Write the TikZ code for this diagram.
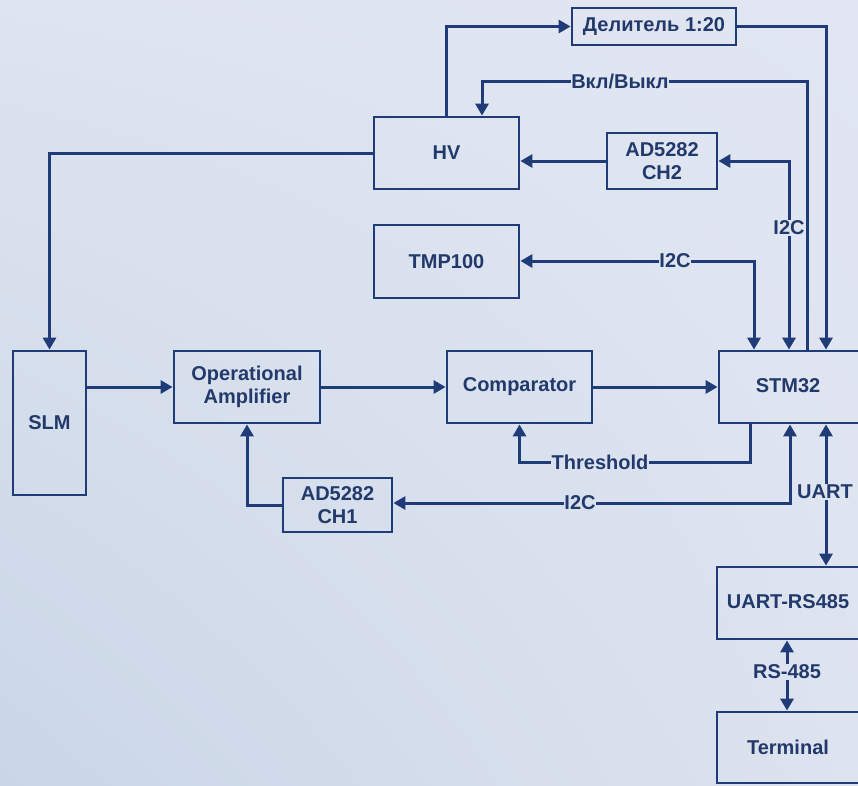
\documentclass[tikz,border=0pt]{standalone}
\usepackage{fontspec}
\setmainfont{Liberation Sans}
\usetikzlibrary{arrows.meta,shadings}
\definecolor{ln}{HTML}{1F3C78}
\definecolor{tx}{HTML}{22396B}
\definecolor{bgA}{HTML}{DEE4F0}
\definecolor{bgB}{HTML}{E1E6F2}
\definecolor{bgC}{HTML}{CAD6E7}
\definecolor{bgD}{HTML}{DDE3EF}
\tikzset{
  x=1pt, y=-1pt,
  box/.style={draw=ln, line width=2.8pt, text=tx, font=\fontsize{20}{22.5}\selectfont\bfseries, align=center, inner sep=0pt},
  lbl/.style={text=tx, font=\fontsize{20}{22.5}\selectfont\bfseries, inner sep=0.5pt},
  wire/.style={draw=ln, line width=3pt},
  arr/.style={wire, -{Triangle[length=12pt,width=13pt]}},
}
\begin{document}
\begin{tikzpicture}
\useasboundingbox (0,0) rectangle (858,785);
\shade[upper left=bgA, upper right=bgB, lower left=bgC, lower right=bgD] (0,0) rectangle (858,785);

% boxes
\node[box, minimum width=164pt, minimum height=37pt] (div) at (654,26.5) {Делитель 1:20};
\node[box, minimum width=145pt, minimum height=72pt] (hv) at (446.5,153) {HV};
\node[box, minimum width=110pt, minimum height=56pt] (ch2) at (662,161) {AD5282\\CH2};
\node[box, minimum width=145pt, minimum height=73pt] (tmp) at (446.5,261.5) {TMP100};
\node[box, minimum width=73pt, minimum height=144pt] (slm) at (49.5,423) {SLM};
\node[box, minimum width=146pt, minimum height=72pt] (opamp) at (247,387) {Operational\\Amplifier};
\node[box, minimum width=109pt, minimum height=54pt] (ch1) at (337.5,505) {AD5282\\CH1};
\node[box, minimum width=145pt, minimum height=72pt] (comp) at (519.5,387) {Comparator};
\node[box, minimum width=160pt, minimum height=72pt] (stm) at (799,387) {};
\node[lbl] (stmtxt) at (788,386) {STM32};
\node[box, minimum width=162pt, minimum height=72pt] (uart) at (798,603) {};
\node[lbl] (uarttxt) at (788,602) {UART-RS485};
\node[box, minimum width=162pt, minimum height=71pt] (term) at (798,747.5) {};
\node[lbl] (termtxt) at (788,747) {Terminal};

% helper x positions
\coordinate (x482) at (482,0);
\coordinate (x750) at (750,0);
\coordinate (x754) at (754,0);
\coordinate (x790) at (790,0);
\coordinate (x807) at (807,0);
\coordinate (x826) at (826,0);

% line labels
\node[lbl] (vkl) at (620,81) {Вкл/Выкл};
\node[lbl] (i2cb) at (789,228) {I2C};
\node[lbl] (i2ca) at (675,261) {I2C};
\node[lbl] (thr) at (600,462) {Threshold};
\node[lbl] (i2cc) at (580,503) {I2C};
\node[lbl] (uartl) at (825,492) {UART};
\node[lbl] (rsl) at (787,672) {RS-485};

% connectors
\draw[arr] (hv.north) |- (div.west);
\draw[arr] (div.east) -| (stm.north -| x826);
\draw[wire] (stm.north -| x807) |- (vkl.east);
\draw[arr] (vkl.west) -| (hv.north -| x482);
\draw[arr] (ch2.west) -- (hv.east |- ch2.west);
\draw[arr] (i2cb.south) -- (stm.north -| i2cb.south);
\draw[arr] (i2cb.north) |- (ch2.east);
\draw[arr] (i2ca.west) -- (tmp.east |- i2ca.west);
\draw[arr] (i2ca.east) -| (stm.north -| x754);
\draw[arr] (hv.west) -| (slm.north);
\draw[arr] (slm.east |- opamp.west) -- (opamp.west);
\draw[arr] (opamp.east) -- (comp.west);
\draw[arr] (comp.east) -- (stm.west);
\draw[wire] (stm.south -| x750) |- (thr.east);
\draw[arr] (thr.west) -| (comp.south);
\draw[arr] (i2cc.east) -| (stm.south -| x790);
\draw[arr] (i2cc.west) -- (ch1.east |- i2cc.west);
\draw[arr] (ch1.west) -| (opamp.south);
\draw[arr] (uartl.north -| x826) -- (stm.south -| x826);
\draw[arr] (uartl.south -| x826) -- (uart.north -| x826);
\draw[arr] (rsl.north) -- (uart.south -| rsl.north);
\draw[arr] (rsl.south) -- (term.north -| rsl.south);
\end{tikzpicture}
\end{document}
